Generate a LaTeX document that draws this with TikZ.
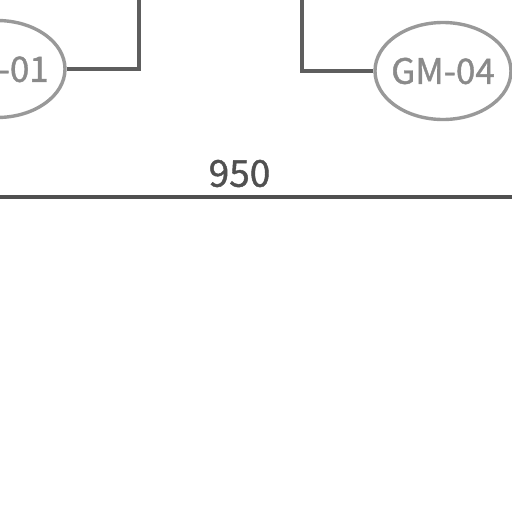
\documentclass[tikz,border=0pt]{standalone}
\usepackage{fontspec}
\newfontfamily\tagfont[FakeBold=1.2]{Noto Sans CJK SC}
\usetikzlibrary{shapes}
\usetikzlibrary{positioning}
\definecolor{tagtext}{HTML}{8A8A8A}
\definecolor{tagline}{HTML}{999999}
\definecolor{wire}{HTML}{5E5E5E}
\definecolor{dimline}{HTML}{505050}
\tikzset{
    tagnode/.style = {ellipse, line width=3.4pt, draw=tagline, text=tagtext, minimum width=136pt, minimum height=97pt, inner xsep=-4pt, inner ysep=0pt, font=\tagfont\fontsize{35}{40}\selectfont},
    wireline/.style = {line width=3.4pt, draw=wire},
    dimedge/.style = {line width=3.6pt, draw=dimline},
    dimtext/.style = {text=dimline, inner sep=0pt, font=\tagfont\fontsize{37}{40}\selectfont},
}
\begin{document}
\begin{tikzpicture}[x=1pt,y=-1pt]
\useasboundingbox (0,0) rectangle (512,512);
\node[tagnode] at (-3, 69) (gm01) {GM-01};
\node[tagnode] at (443, 71) (gm04) {GM-04};
\coordinate (top01) at (139, -2);
\coordinate (top04) at (302, -2);

\draw[wireline] (gm01.east) -| (top01);
\draw[wireline] (gm04.west) -| (top04);

\coordinate (dimleft) at (-2, 197);
\coordinate (dimright) at (514, 197);
\draw[dimedge] (dimleft) -- (dimright);
\node[dimtext] at (239.5, 173.5) (dimval) {950};
\end{tikzpicture}
\end{document}
